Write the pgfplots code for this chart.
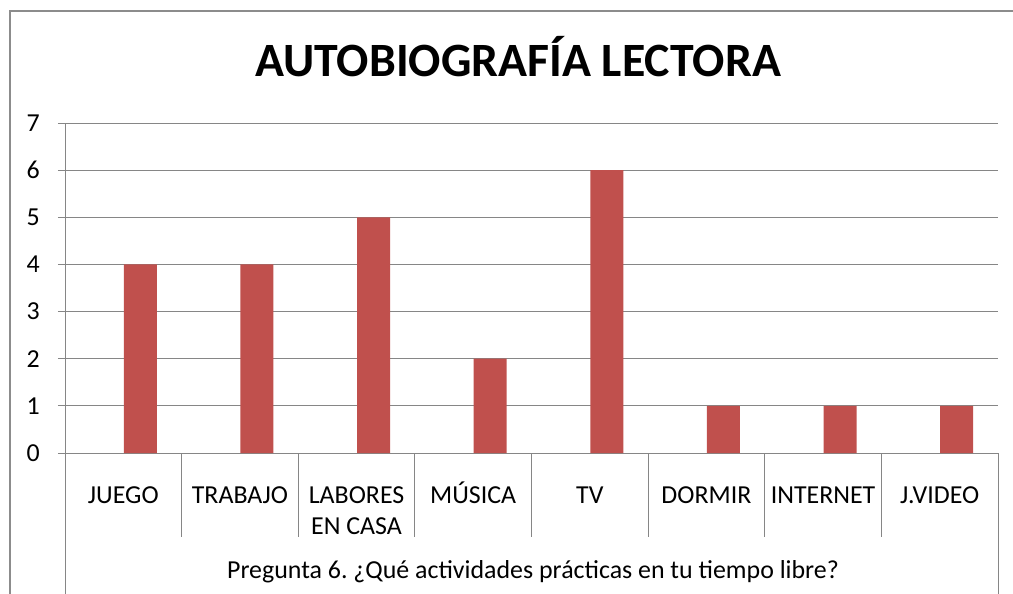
\documentclass[border=0pt]{standalone}
\usepackage{pgfplots}
\pgfplotsset{compat=1.18}
\usepackage{fontspec}
\setmainfont{Carlito}
\definecolor{barred}{HTML}{C0504D}
\definecolor{gridgray}{HTML}{868686}
\definecolor{bordergray}{HTML}{8C8C8C}
\begin{document}
\begin{tikzpicture}
\path[use as bounding box] (-65bp,-141bp) rectangle (948bp,453bp);
\draw[bordergray, line width=1.2bp] (-55bp,-160bp) -- (-55bp,442bp) -- (980bp,442bp);
\begin{axis}[
  scale only axis,
  width=933bp, height=330bp,
  xmin=-0.5, xmax=7.5, ymin=0, ymax=7,
  ytick={0,1,2,3,4,5,6,7},
  xtick={0,1,2,3,4,5,6,7},
  xticklabels={JUEGO,TRABAJO,{\begin{tabular}[t]{@{}c@{}}LABORES\\EN CASA\end{tabular}},MÚSICA,TV,DORMIR,INTERNET,J.VIDEO},
  xtick style={draw=none},
  ytick style={gridgray, line width=1bp},
  tick align=outside,
  major tick length=7bp,
  axis x line*=bottom, axis y line*=left,
  axis line style={gridgray, line width=1bp, -},
  ymajorgrids,
  grid style={gridgray, line width=1bp},
  /pgf/number format/assume math mode=true,
  yticklabel style={font=\fontsize{26}{32}\selectfont, anchor=east, inner sep=0pt, xshift=-18bp},
  xticklabel style={font=\fontsize{26}{32}\selectfont, anchor=base, inner sep=0pt, yshift=-43bp},
  clip=false,
]
\addplot[ybar, fill=barred, draw=none, bar width=33bp, bar shift=17bp] coordinates {(0,4) (1,4) (2,5) (3,2) (4,6) (5,1) (6,1) (7,1)};
\pgfplotsinvokeforeach{0.5,1.5,2.5,3.5,4.5,5.5,6.5}{
  \draw[gridgray, line width=1bp] (axis cs:#1,0) -- ++(0pt,-84bp);
}
\draw[gridgray, line width=1bp] (axis cs:-0.5,0) -- ++(0pt,-141bp);
\draw[gridgray, line width=1bp] (axis cs:7.5,0) -- ++(0pt,-141bp);
\end{axis}
\node[anchor=base, inner sep=0pt, font=\fontsize{48}{56}\selectfont\bfseries] at (453bp,376bp) {AUTOBIOGRAFÍA LECTORA};
\node[anchor=base, inner sep=0pt, font=\fontsize{26}{32}\selectfont] at (468bp,-125bp) {Pregunta 6.\ ¿Qué actividades prácticas en tu tiempo libre?};
\end{tikzpicture}
\end{document}
